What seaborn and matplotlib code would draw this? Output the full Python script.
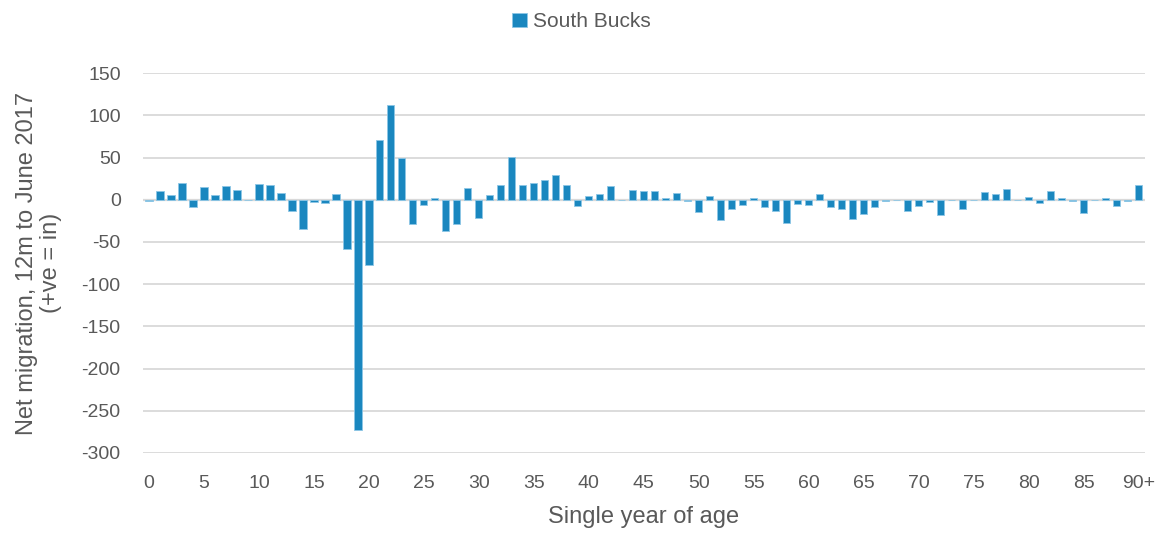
import numpy as np
import pandas as pd
import matplotlib
matplotlib.use('Agg')
import matplotlib.pyplot as plt
import seaborn as sns

# Net migration by single year of age (0..89, then 90+)
AGES = [str(a) for a in range(90)] + ['90+']
NET_MIGRATION = [
    -2, 10, 6, 20, -8, 15, 6, 16, 11, 0,
    19, 18, 8, -13, -35, -3, -4, 7, -58, -273,
    -77, 71, 112, 50, -29, -6, 2, -37, -29, 14,
    -22, 6, 18, 51, 17, 20, 24, 29, 17, -7,
    4, 7, 16, 0, 12, 10, 10, 2, 8, -2,
    -15, 5, -24, -11, -6, 2, -9, -13, -27, -5,
    -6, 7, -9, -11, -23, -17, -9, -2, 0, -13,
    -7, -3, -18, 0, -11, 0, 9, 7, 13, 0,
    3, -4, 10, 2, -2, -16, 0, 2, -7, -2,
    18,
]
SERIES = 'South Bucks'
Y_TICKS = list(range(-300, 151, 50))

BAR_COLOR = '#1a87bf'
TEXT_COLOR = '#595959'
GRID_COLOR = '#d9d9d9'

sns.set_style('white')
plt.rcParams['font.family'] = ['Liberation Sans', 'DejaVu Sans']

df = pd.DataFrame({'age': AGES, 'net': NET_MIGRATION, 'area': SERIES})

fig = plt.figure(figsize=(11.62, 5.38), dpi=100)
ax = fig.add_axes([0.123, 0.158, 0.862, 0.706])

sns.barplot(data=df, x='age', y='net', hue='area', order=AGES,
            palette=[BAR_COLOR], saturation=1, width=0.66,
            edgecolor='#8cc6e6', linewidth=0.6, ax=ax, zorder=3)

ax.set_ylim(-300, 150)
ax.set_xlim(-0.55, len(AGES) - 0.45)
ax.set_yticks(Y_TICKS)
ax.set_yticklabels([str(t) for t in Y_TICKS])
ax.yaxis.grid(True, color=GRID_COLOR, linewidth=1.3, zorder=0)
ax.set_axisbelow(True)
ax.axhline(0, color=GRID_COLOR, linewidth=1.6, zorder=1)

tick_pos = list(range(0, len(AGES), 5))
ax.set_xticks(tick_pos)
ax.set_xticklabels([AGES[i] for i in tick_pos])

for s in ax.spines.values():
    s.set_visible(False)
ax.tick_params(axis='y', length=0, labelsize=14, colors=TEXT_COLOR, pad=16)
ax.tick_params(axis='x', length=0, labelsize=14, colors=TEXT_COLOR, pad=16)

ax.set_xlabel('Single year of age', fontsize=17, color=TEXT_COLOR, labelpad=10)
ax.set_ylabel('Net migration, 12m to June 2017\n(+ve = in)', fontsize=17,
              color=TEXT_COLOR, labelpad=14, linespacing=1.15)

# legend sits centred on the figure, not the plot area
ax.legend(loc='center', bbox_to_anchor=(0.438, 1.135), frameon=False,
          fontsize=15, handlelength=0.7, handleheight=0.7, handletextpad=0.3,
          labelcolor=TEXT_COLOR)

fig.savefig('out.png', dpi=100)
